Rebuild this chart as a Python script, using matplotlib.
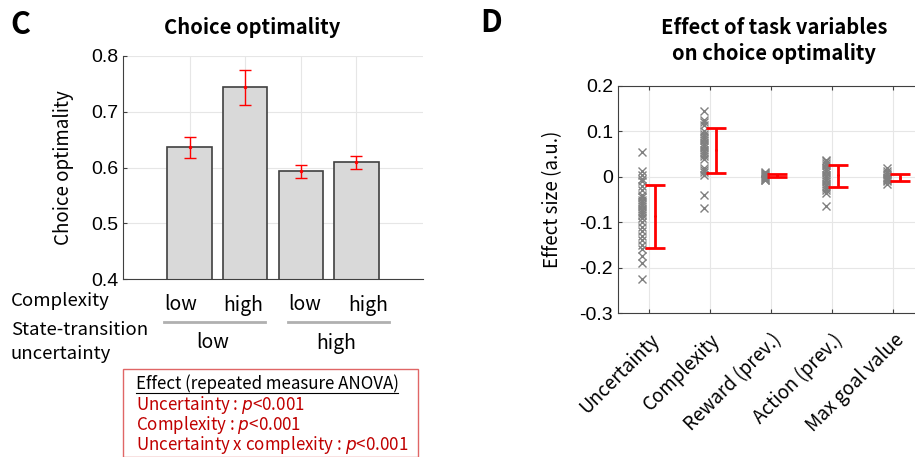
import numpy as np
import matplotlib
matplotlib.use('Agg')
import matplotlib.pyplot as plt

plt.rcParams['font.family'] = ['Noto Sans CJK JP', 'DejaVu Sans']

# Panel C data
conditions = ['low', 'high', 'low', 'high']
optimality = [0.636, 0.744, 0.593, 0.609]
optimality_err = [0.019, 0.031, 0.0115, 0.0125]

# Panel D data
variables = ['Uncertainty', 'Complexity', 'Reward (prev.)', 'Action (prev.)', 'Max goal value']
eff_uncertainty = [0.055, 0.012, 0.005, -0.005, -0.01, -0.02, -0.03, -0.04, -0.045, -0.05,
                   -0.055, -0.06, -0.065, -0.07, -0.075, -0.08, -0.085, -0.09, -0.1, -0.11,
                   -0.12, -0.13, -0.14, -0.15, -0.16, -0.175, -0.19, -0.225]
eff_complexity = [0.145, 0.125, 0.12, 0.115, 0.1, 0.095, 0.09, 0.085, 0.08, 0.075, 0.07,
                  0.065, 0.06, 0.055, 0.05, 0.045, 0.04, 0.02, 0.015, 0.01, 0.005, -0.04, -0.068]
eff_reward = [0.01, 0.008, 0.006, 0.004, 0.002, 0.0, -0.002, -0.004, -0.006, -0.008]
eff_action = [0.038, 0.035, 0.03, 0.025, 0.02, 0.015, 0.01, 0.005, 0.0, -0.005, -0.01,
              -0.015, -0.02, -0.025, -0.03, -0.035, -0.065]
eff_maxgoal = [0.02, 0.012, 0.008, 0.005, 0.0, -0.003, -0.005, -0.008, -0.01, -0.015]
eff_mean = [-0.087, 0.058, 0.003, 0.003, -0.002]
eff_lo = [-0.157, 0.008, 0.0, -0.022, -0.01]
eff_hi = [-0.017, 0.108, 0.006, 0.027, 0.007]

W, H = 915, 457
fig = plt.figure(figsize=(W / 100, H / 100), dpi=100)


def box(l, t, r, b):
    return [l / W, 1 - b / H, (r - l) / W, (b - t) / H]


def ftext(x, y, s, **kw):
    return fig.text(x / W, 1 - y / H, s, **kw)


num_font = 'Liberation Sans'
grid_col = '#e6e6e6'

# ---------------- panel C
ax1 = fig.add_axes(box(123, 56, 423, 279))
xs = np.arange(1, 5)
ax1.bar(xs, optimality, width=0.8, color='#d9d9d9', edgecolor='#404040', linewidth=1.2, zorder=2)
ax1.errorbar(xs, optimality, yerr=optimality_err, fmt='.', color='red', markersize=3,
             elinewidth=1, capsize=4, capthick=1, zorder=3)
ax1.set_xlim(-0.2, 5.2)
ax1.set_ylim(0.4, 0.8)
ax1.set_yticks([0.4, 0.5, 0.6, 0.7, 0.8])
ax1.set_yticklabels(['0.4', '0.5', '0.6', '0.7', '0.8'], fontfamily=num_font, fontsize=14)
ax1.set_xticks(xs)
ax1.set_xticklabels([])
ax1.tick_params(direction='in', length=3, color='#404040')
ax1.grid(True, color=grid_col, linewidth=0.8, zorder=0)
ax1.set_axisbelow(True)
for s in ['top', 'right']:
    ax1.spines[s].set_visible(False)
for s in ['left', 'bottom']:
    ax1.spines[s].set_color('#404040')
ax1.set_ylabel('Choice optimality', fontsize=13.5, labelpad=12)
ftext(252, 28, 'Choice optimality', fontsize=14.5, fontweight='bold', ha='center', va='center')

# row labels below panel C
cond_x = [181, 243, 305, 368]
for cx, c in zip(cond_x, conditions):
    ftext(cx, 305, c, fontsize=14, ha='center', va='center')
ftext(11, 301, 'Complexity', fontsize=13.4, ha='left', va='center')
ftext(11, 330, 'State-transition', fontsize=13.4, ha='left', va='center')
ftext(11, 354, 'uncertainty', fontsize=13.4, ha='left', va='center')
ftext(213, 343, 'low', fontsize=14, ha='center', va='center')
ftext(336, 343, 'high', fontsize=14, ha='center', va='center')
fig.add_artist(plt.Line2D([164 / W, 265 / W], [1 - 322 / H, 1 - 322 / H], color='#b0b0b0', lw=2))
fig.add_artist(plt.Line2D([288 / W, 389 / W], [1 - 322 / H, 1 - 322 / H], color='#b0b0b0', lw=2))

# stats box
fig.add_artist(plt.Rectangle((123 / W, 0), (418 - 123) / W, (H - 369) / H, fill=False,
                             edgecolor='#e06666', linewidth=1))
ftext(136, 384, 'Effect (repeated measure ANOVA)', fontsize=12.2, ha='left', va='center')
fig.add_artist(plt.Line2D([136 / W, 398 / W], [1 - 393 / H, 1 - 393 / H], color='black', lw=0.8))
red = '#c00000'
ftext(136, 405, 'Uncertainty : $\\it{p}$<0.001', fontsize=12.2, ha='left', va='center', color=red)
ftext(136, 425, 'Complexity : $\\it{p}$<0.001', fontsize=12.2, ha='left', va='center', color=red)
ftext(136, 445, 'Uncertainty x complexity : $\\it{p}$<0.001', fontsize=12.2, ha='left',
      va='center', color=red)

ftext(10, 25, 'C', fontsize=22, fontweight='bold', ha='left', va='center')
ftext(480, 23, 'D', fontsize=22, fontweight='bold', ha='left', va='center')

# ---------------- panel D
ax2 = fig.add_axes(box(618, 86, 924, 313))
groups = [eff_uncertainty, eff_complexity, eff_reward, eff_action, eff_maxgoal]
for i, g in enumerate(groups):
    ax2.plot(np.full(len(g), i + 1 - 0.1), g, 'x', color='#808080', markersize=6,
             markeredgewidth=1, zorder=2)
pos = np.arange(1, 6) + 0.1
m = np.array(eff_mean)
ax2.errorbar(pos, m, yerr=[m - np.array(eff_lo), np.array(eff_hi) - m], fmt='.',
             color='red', markersize=2, elinewidth=2, capsize=7, capthick=2, zorder=3)
ax2.set_xlim(0.5, 5.5)
ax2.set_ylim(-0.3, 0.2)
yt = [-0.3, -0.2, -0.1, 0, 0.1, 0.2]
ax2.set_yticks(yt)
ax2.set_yticklabels(['-0.3', '-0.2', '-0.1', '0', '0.1', '0.2'], fontfamily=num_font, fontsize=14)
ax2.set_xticks(np.arange(1, 6))
ax2.set_xticklabels(variables, rotation=45, ha='right', va='top', rotation_mode='anchor',
                    fontsize=13.5)
ax2.tick_params(axis='x', direction='in', length=3, pad=12, color='#404040', top=True)
ax2.tick_params(axis='y', direction='in', length=3, color='#404040', right=True)
ax2.grid(True, color=grid_col, linewidth=0.8, zorder=0)
ax2.set_axisbelow(True)
for s in ax2.spines.values():
    s.set_color('#404040')
ax2.set_ylabel('Effect size (a.u.)', fontsize=13.5, labelpad=12)
ftext(774, 27, 'Effect of task variables', fontsize=14.5, fontweight='bold', ha='center', va='center')
ftext(774, 54, 'on choice optimality', fontsize=14.5, fontweight='bold', ha='center', va='center')

fig.savefig('out.png', dpi=100)
